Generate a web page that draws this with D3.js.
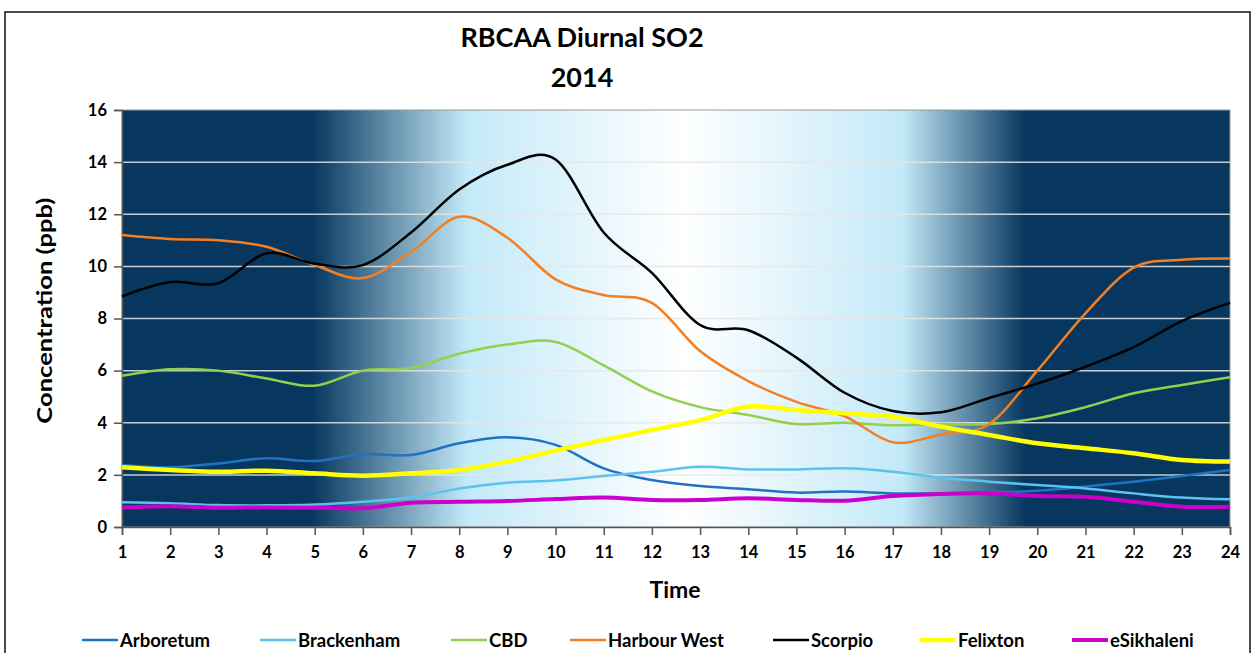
<!DOCTYPE html>
<meta charset="utf-8">
<style>
body { margin: 0; background: #fff; }
svg text { font-family: Lato, "Open Sans", sans-serif; font-weight: bold; fill: #000; }
</style>
<script src="https://d3js.org/d3.v7.min.js"></script>
<body>
<svg id="chart"></svg>
<script>

var width = 1253,
    height = 653;

// hours of the day
var hours = d3.range(1, 25);
var yTicks = [0, 2, 4, 6, 8, 10, 12, 14, 16];

// hourly SO2 means (ppb)
var arboretum  = [2.38, 2.29, 2.44, 2.64, 2.53, 2.8, 2.76, 3.21, 3.44, 3.15, 2.25, 1.8, 1.57, 1.45, 1.32, 1.36, 1.29, 1.29, 1.33, 1.39, 1.55, 1.74, 1.96, 2.19];
var brackenham = [0.95, 0.91, 0.84, 0.83, 0.86, 0.97, 1.13, 1.48, 1.7, 1.78, 1.96, 2.12, 2.31, 2.21, 2.21, 2.25, 2.12, 1.89, 1.74, 1.61, 1.48, 1.29, 1.13, 1.06];
var cbd        = [5.8, 6.05, 6.0, 5.7, 5.42, 6.0, 6.1, 6.65, 7.0, 7.1, 6.2, 5.2, 4.6, 4.3, 3.95, 4.0, 3.9, 3.95, 3.95, 4.17, 4.6, 5.13, 5.45, 5.75];
var harbour    = [11.2, 11.05, 11.0, 10.75, 10.05, 9.55, 10.55, 11.9, 11.1, 9.5, 8.9, 8.6, 6.75, 5.6, 4.8, 4.25, 3.25, 3.55, 3.95, 6.0, 8.2, 9.95, 10.25, 10.3];
var scorpio    = [8.85, 9.4, 9.35, 10.5, 10.1, 10.05, 11.3, 12.95, 13.9, 14.1, 11.3, 9.75, 7.75, 7.55, 6.5, 5.15, 4.45, 4.4, 4.95, 5.5, 6.15, 6.9, 7.9, 8.6];
var felixton   = [2.29, 2.19, 2.12, 2.16, 2.06, 1.97, 2.06, 2.19, 2.51, 2.93, 3.34, 3.72, 4.1, 4.62, 4.49, 4.36, 4.23, 3.85, 3.53, 3.21, 3.02, 2.83, 2.57, 2.51];
var esikhaleni = [0.75, 0.8, 0.74, 0.75, 0.74, 0.72, 0.93, 0.97, 1.0, 1.07, 1.13, 1.04, 1.04, 1.1, 1.04, 1.01, 1.19, 1.27, 1.29, 1.19, 1.16, 0.97, 0.78, 0.78];

var seriesNames  = ["Arboretum", "Brackenham", "CBD", "Harbour West", "Scorpio", "Felixton", "eSikhaleni"];
var seriesValues = [arboretum, brackenham, cbd, harbour, scorpio, felixton, esikhaleni];
var seriesColors = ["#1f72c4", "#5cc3ef", "#92d050", "#f47f22", "#000000", "#ffff00", "#cc00cc"];
var seriesWidths = [2.5, 2.5, 2.5, 2.5, 2.5, 4.5, 4];

// day/night shading of the plot background (hour -> colour)
var skyStops = [
  {hour: 1, color: "#07375f"},
  {hour: 4.95, color: "#07375f"},
  {hour: 8.15, color: "#c3e9f8"},
  {hour: 12.65, color: "#ffffff"},
  {hour: 17.2, color: "#c3e9f8"},
  {hour: 19.75, color: "#07375f"},
  {hour: 24, color: "#07375f"}
];

var margin = {left: 122, right: 23, top: 110, bottom: 126};

var svg = d3.select("#chart")
    .attr("width", width)
    .attr("height", height);

var x = d3.scaleLinear().domain([1, 24]).range([margin.left, width - margin.right]);
var y = d3.scaleLinear().domain([0, 16]).range([height - margin.bottom, margin.top]);

// outer frame
svg.append("rect")
    .attr("x", 5).attr("y", 12)
    .attr("width", 1245).attr("height", 660)
    .attr("fill", "none")
    .attr("stroke", "#111")
    .attr("stroke-width", 1.5);

// background gradient
var grad = svg.append("defs").append("linearGradient")
    .attr("id", "sky")
    .attr("gradientUnits", "userSpaceOnUse")
    .attr("x1", x(1)).attr("x2", x(24))
    .attr("y1", 0).attr("y2", 0);
grad.selectAll("stop")
    .data(skyStops)
    .enter().append("stop")
    .attr("offset", function(d) { return (x(d.hour) - x(1)) / (x(24) - x(1)); })
    .attr("stop-color", function(d) { return d.color; });

svg.append("rect")
    .attr("x", x(1)).attr("y", y(16))
    .attr("width", x(24) - x(1))
    .attr("height", y(0) - y(16))
    .attr("fill", "url(#sky)")
    .attr("stroke", "#9a9a9a")
    .attr("stroke-width", 1);

// gridlines
svg.append("g")
    .selectAll("line")
    .data(yTicks.filter(function(d) { return d > 0 && d < 16; }))
    .enter().append("line")
    .attr("x1", x(1)).attr("x2", x(24))
    .attr("y1", function(d) { return y(d); })
    .attr("y2", function(d) { return y(d); })
    .attr("stroke", "#e6e6e6")
    .attr("stroke-opacity", 0.85)
    .attr("stroke-width", 1.5);

// axes
var yAxis = svg.append("g")
    .attr("transform", "translate(" + x(1) + ",0)")
    .call(d3.axisLeft(y).tickValues(yTicks).tickSize(8).tickPadding(7));
var xAxis = svg.append("g")
    .attr("transform", "translate(0," + y(0) + ")")
    .call(d3.axisBottom(x).tickValues(hours).tickSize(8).tickPadding(11));

[yAxis, xAxis].forEach(function(a) {
  a.select(".domain").attr("stroke", "#555").attr("stroke-width", 1.5);
  a.selectAll(".tick line").attr("stroke", "#555").attr("stroke-width", 1.5);
  a.selectAll("text")
    .attr("font-family", "Lato, 'Open Sans', sans-serif")
    .attr("font-weight", "bold")
    .attr("font-size", 16.5)
    .attr("fill", "#000");
});

// series
var line = d3.line()
    .x(function(d, i) { return x(hours[i]); })
    .y(function(d) { return y(d); })
    .curve(d3.curveCardinal.tension(0));

svg.append("g")
    .selectAll("path")
    .data(seriesValues)
    .enter().append("path")
    .attr("d", line)
    .attr("fill", "none")
    .attr("stroke", function(d, i) { return seriesColors[i]; })
    .attr("stroke-width", function(d, i) { return seriesWidths[i]; })
    .attr("stroke-linejoin", "round");

// titles
svg.append("text")
    .attr("x", 582).attr("y", 47)
    .attr("text-anchor", "middle")
    .attr("font-size", 27)
    .text("RBCAA Diurnal SO2");
svg.append("text")
    .attr("x", 582).attr("y", 87)
    .attr("text-anchor", "middle")
    .attr("font-size", 27)
    .text("2014");

svg.append("text")
    .attr("transform", "translate(52," + y(8.3) + ") rotate(-90)")
    .attr("text-anchor", "middle")
    .attr("font-size", 21)
    .attr("textLength", 226)
    .attr("lengthAdjust", "spacingAndGlyphs")
    .text("Concentration  (ppb)");

svg.append("text")
    .attr("x", 675).attr("y", 598)
    .attr("text-anchor", "middle")
    .attr("font-size", 23)
    .text("Time");

// legend
var legendX = [82, 260, 451, 570, 773, 920, 1072];
var legend = svg.append("g")
    .selectAll("g")
    .data(seriesNames)
    .enter().append("g")
    .attr("transform", function(d, i) { return "translate(" + legendX[i] + ",640)"; });
legend.append("line")
    .attr("x1", 0).attr("x2", 36)
    .attr("stroke", function(d, i) { return seriesColors[i]; })
    .attr("stroke-width", function(d, i) { return seriesWidths[i]; });
legend.append("text")
    .attr("x", 38).attr("dy", "0.36em")
    .attr("font-size", 18.5)
    .text(function(d) { return d; });

</script>
</body>
